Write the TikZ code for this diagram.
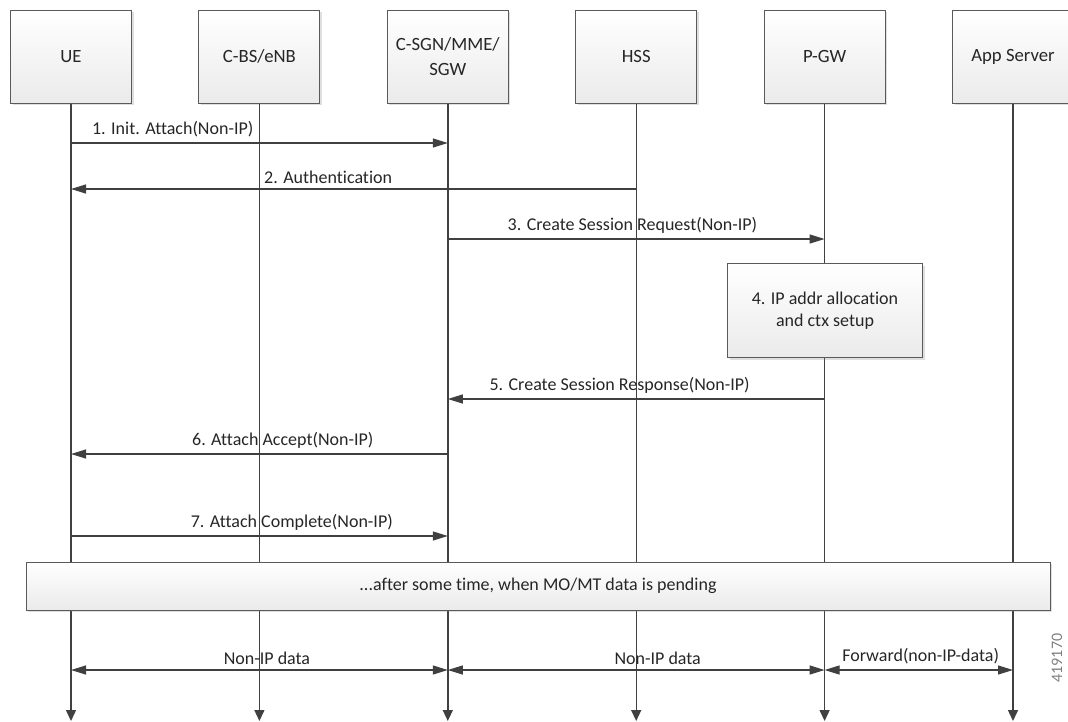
\documentclass[tikz,border=0pt]{standalone}
\usepackage{fontspec}
\setmainfont{Carlito}[Ligatures=NoCommon]
\usetikzlibrary{arrows.meta,shadows}
\definecolor{linegray}{HTML}{404040}
\definecolor{boxedge}{HTML}{5A5A5A}
\definecolor{txtgray}{HTML}{262626}
\tikzset{
  entity/.style={draw=boxedge, line width=1pt, top color=white, bottom color=gray!16,
    minimum width=121pt, minimum height=93pt, align=center, text=txtgray,
    font=\fontsize{18.7}{25}\selectfont,
    drop shadow={opacity=.25, shadow xshift=2pt, shadow yshift=-2pt}},
  lifeline/.style={draw=linegray, line width=1.4pt, -{Triangle[length=11pt,width=10pt]}},
  msg/.style={draw=linegray, line width=1.2pt, -{Triangle[length=15pt,width=9pt]}},
  bimsg/.style={draw=linegray, line width=1.2pt, {Triangle[length=15pt,width=9pt]}-{Triangle[length=15pt,width=9pt]}},
  lbl/.style={font=\fontsize{18}{22}\selectfont, text=txtgray, anchor=south, inner sep=2pt, yshift=3pt}
}
\begin{document}
\begin{tikzpicture}[x=1pt,y=-1pt]
   \useasboundingbox (0,0) rectangle (1068,721);
   \coordinate (bottom) at (0,721);

   % entities
   \node[entity] (ue) at (71,56.5) {UE};
   \node[entity] (bs) at (259.4,56.5) {C-BS/eNB};
   \node[entity] (sgn) at (447.8,56.5) {C-SGN/MME/\\SGW};
   \node[entity] (hss) at (636.2,56.5) {HSS};
   \node[entity] (pgw) at (824.6,56.5) {P-GW};
   \node[entity] (app) at (1013,56.5) {App Server};

   \foreach \e in {ue,bs,sgn,hss,pgw,app}
   {
       \draw[lifeline] (\e.south) -- (\e.south |- bottom);
   }

   % boxes over the lifelines
   \node[entity, minimum width=195pt, minimum height=94pt, font=\fontsize{18}{22}\selectfont] (alloc) at (825,310.5) {4. IP addr allocation\\and ctx setup};
   \node[entity, minimum width=1024pt, minimum height=48pt, font=\fontsize{18}{22}\selectfont] (pending) at (538,586) {...after some time, when MO/MT data is pending};

   % message rows
   \coordinate (r1) at (0,143);
   \coordinate (r2) at (0,189);
   \coordinate (r3) at (0,239);
   \coordinate (r5) at (0,399);
   \coordinate (r6) at (0,454);
   \coordinate (r7) at (0,536);
   \coordinate (r8) at (0,670);

   \draw[msg] (ue |- r1) -- node[lbl, pos=.27] {1. Init. Attach(Non-IP)} (sgn |- r1);
   \draw[msg] (hss |- r2) -- node[lbl, pos=.545] {2. Authentication} (ue |- r2);
   \draw[msg] (sgn |- r3) -- node[lbl, pos=.49] {3. Create Session Request(Non-IP)} (pgw |- r3);
   \draw[msg] (pgw |- r5) -- node[lbl, pos=.544] {5. Create Session Response(Non-IP)} (sgn |- r5);
   \draw[msg] (sgn |- r6) -- node[lbl, pos=.438] {6. Attach Accept(Non-IP)} (ue |- r6);
   \draw[msg] (ue |- r7) -- node[lbl, pos=.586] {7. Attach Complete(Non-IP)} (sgn |- r7);

   \draw[bimsg] (ue |- r8) -- node[lbl, pos=.52] {Non-IP data} (sgn |- r8);
   \draw[bimsg] (sgn |- r8) -- node[lbl, pos=.557] {Non-IP data} (pgw |- r8);
   \draw[bimsg] (pgw |- r8) -- node[lbl, pos=.51] {Forward(non-IP-data)} (app |- r8);

   \node[rotate=90, text=gray, font=\fontsize{16}{18}\selectfont] (figid) at (1057,658) {419170};
\end{tikzpicture}
\end{document}
